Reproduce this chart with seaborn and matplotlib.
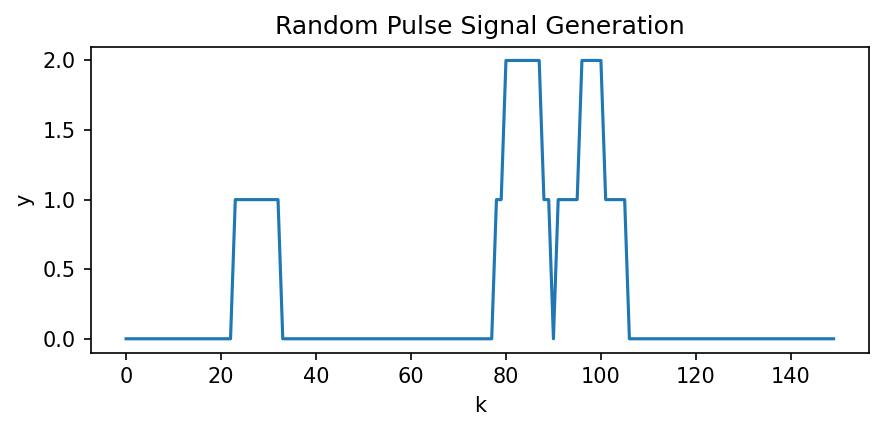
import numpy as np
import pandas as pd
import matplotlib
matplotlib.use("Agg")
import matplotlib.pyplot as plt
import seaborn as sns

# ==========================================================
# Data
# ==========================================================

k = list(range(150))

y = [
    0, 0, 0, 0, 0, 0, 0, 0, 0, 0,   # 0-9
    0, 0, 0, 0, 0, 0, 0, 0, 0, 0,   # 10-19
    0, 0, 0, 1, 1, 1, 1, 1, 1, 1,   # 20-29
    1, 1, 1, 0, 0, 0, 0, 0, 0, 0,   # 30-39
    0, 0, 0, 0, 0, 0, 0, 0, 0, 0,   # 40-49
    0, 0, 0, 0, 0, 0, 0, 0, 0, 0,   # 50-59
    0, 0, 0, 0, 0, 0, 0, 0, 0, 0,   # 60-69
    0, 0, 0, 0, 0, 0, 0, 0, 1, 1,   # 70-79
    2, 2, 2, 2, 2, 2, 2, 2, 1, 1,   # 80-89
    0, 1, 1, 1, 1, 1, 2, 2, 2, 2,   # 90-99
    2, 1, 1, 1, 1, 1, 0, 0, 0, 0,   # 100-109
    0, 0, 0, 0, 0, 0, 0, 0, 0, 0,   # 110-119
    0, 0, 0, 0, 0, 0, 0, 0, 0, 0,   # 120-129
    0, 0, 0, 0, 0, 0, 0, 0, 0, 0,   # 130-139
    0, 0, 0, 0, 0, 0, 0, 0, 0, 0,   # 140-149
]

df = pd.DataFrame({"k": k, "y": y})

# ==========================================================
# Plot
# ==========================================================

fig = plt.figure(figsize=(884 / 150, 431 / 150), dpi=150)
ax = fig.add_axes([0.1026, 0.1817, 0.8804, 0.7103])

sns.lineplot(data=df, x="k", y="y", ax=ax, color="#1f77b4", linewidth=1.5)

ax.set_title("Random Pulse Signal Generation")
ax.set_xlabel("k")
ax.set_ylabel("y")
ax.set_yticks([0.0, 0.5, 1.0, 1.5, 2.0])

fig.savefig("out.png", dpi=150)
